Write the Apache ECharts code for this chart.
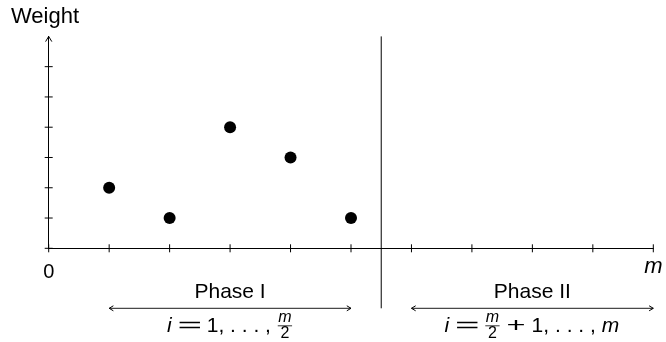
<!DOCTYPE html>
<html>
<head>
<meta charset="utf-8">
<script src="https://cdn.jsdelivr.net/npm/echarts@6/dist/echarts.min.js"></script>
<style>
  html, body { margin: 0; padding: 0; background: #fff; }
  #chart { width: 666px; height: 342px; }
</style>
</head>
<body>
<div id="chart"></div>
<script>
// Item positions and their weights
const positions = [1, 2, 3, 4, 5];
const weights = [2, 1, 4, 3, 1];

// Axis extents and ticks
const xMax = 10;
const yMax = 7;
const xTickValues = [0, 1, 2, 3, 4, 5, 6, 7, 8, 9, 10];
const yTickValues = [0, 1, 2, 3, 4, 5, 6];
const xLabelZero = '0';
const xLabelEnd = 'm';
const yName = 'Weight';

// Boundary between the two phases
const phaseSplit = 5.5;
const phaseNames = ['Phase I', 'Phase II'];
const phaseRanges = [[1, 5], [6, 10]];
const phaseFormulas = [
  [['i', 'it'], ['=', 'op'], ['1, . . . , ', 'rm'], [['m', '2'], 'frac']],
  [['i', 'it'], ['=', 'op'], [['m', '2'], 'frac'], ['+', 'op'], ['1, . . . , ', 'rm'], ['m', 'it']]
];

const FAMILY = '"Liberation Sans", Arial, Helvetica, sans-serif';
const INK = '#000';
const TICK_HALF = 4;

const chart = echarts.init(document.getElementById('chart'), null, { renderer: 'canvas' });

// tick marks that cross the axis lines: [axis, value]
const tickMarks = xTickValues.map(v => ['x', v]).concat(yTickValues.map(v => ['y', v]));

const option = {
  animation: false,
  backgroundColor: '#fff',
  title: {
    text: yName, left: 6, top: 1,
    textStyle: { fontFamily: FAMILY, fontSize: 22, fontWeight: 'normal', color: INK }
  },
  grid: {
    left: 48.7, right: 12.7, top: 36.4, bottom: 93.7,
    containLabel: false, outerBoundsMode: 'none'
  },
  xAxis: {
    type: 'value', min: 0, max: xMax, interval: 1, position: 'bottom',
    axisLine: { show: true, onZero: false, lineStyle: { color: INK, width: 1 } },
    axisTick: { show: false },
    splitLine: { show: false },
    axisLabel: {
      show: true, margin: 8,
      formatter: v => (v === 0 ? '{z|' + xLabelZero + '}' : v === xMax ? '{m|' + xLabelEnd + '}' : ''),
      rich: {
        z: { fontFamily: FAMILY, fontSize: 20, color: INK, padding: [6, 0, 0, 0] },
        m: { fontFamily: FAMILY, fontSize: 22, fontStyle: 'italic', color: INK }
      }
    }
  },
  yAxis: {
    type: 'value', min: 0, max: yMax, interval: 1, position: 'left',
    axisLine: { show: true, onZero: false, lineStyle: { color: INK, width: 1 } },
    axisTick: { show: false },
    splitLine: { show: false },
    axisLabel: { show: false }
  },
  series: [
    {
      // short tick strokes centred on the axis lines
      type: 'custom',
      silent: true,
      clip: false,
      data: tickMarks.map((t, i) => i),
      renderItem: (params, api) => {
        const [axis, v] = tickMarks[params.dataIndex];
        const p = axis === 'x' ? api.coord([v, 0]) : api.coord([0, v]);
        const shape = axis === 'x'
          ? { x1: p[0], y1: p[1] - TICK_HALF, x2: p[0], y2: p[1] + TICK_HALF }
          : { x1: p[0] - TICK_HALF, y1: p[1], x2: p[0] + TICK_HALF, y2: p[1] };
        return { type: 'line', shape: shape, style: { stroke: INK, lineWidth: 1 } };
      }
    },
    {
      type: 'scatter',
      symbol: 'circle', symbolSize: 12,
      itemStyle: { color: INK, opacity: 1 },
      data: positions.map((p, i) => [p, weights[i]])
    }
  ]
};

chart.setOption(option);

// ---- annotations placed through the grid's coordinate system ----
const px = (x, y) => chart.convertToPixel({ xAxisIndex: 0, yAxisIndex: 0 }, [x, y]);

const measureCtx = document.createElement('canvas').getContext('2d');
function textWidth(str, size, style) {
  measureCtx.font = (style || 'normal') + ' ' + size + 'px ' + FAMILY;
  return measureCtx.measureText(str).width;
}
const MID = 0.3465; // distance from baseline to the em-box middle, in em

function textAt(str, x, baseline, size, italic, align) {
  return {
    type: 'text', silent: true,
    style: {
      text: str, x: x, y: baseline - MID * size,
      fontFamily: FAMILY, fontSize: size, fontStyle: italic ? 'italic' : 'normal',
      fill: INK, textAlign: align || 'left', textVerticalAlign: 'middle'
    }
  };
}

function openHead(tipX, tipY, dx, dy) {
  // dx, dy point from the tip back along the shaft
  return {
    type: 'polyline', silent: true,
    shape: { points: [[tipX + dx - dy * 0.6, tipY + dy - dx * 0.6], [tipX, tipY], [tipX + dx + dy * 0.6, tipY + dy + dx * 0.6]] },
    style: { stroke: INK, lineWidth: 1, fill: null }
  };
}

const MAIN_SIZE = 21;
const FRAC_SIZE = 16;
const arrowY = 308.3;
const phaseTitleBaseline = 299.5;
const formulaBaseline = 333.3;
// relation / binary operator glyphs, widened like display-math symbols
const OP_STYLE = {
  '=': { size: 21, scaleX: 2.0, width: 20, padL: 7, padR: 7 },
  '+': { size: 21, scaleX: 1.55, width: 19, padL: 6, padR: 6 }
};

function formulaElements(tokens, cx, baseline) {
  const pieces = tokens.map(([content, kind]) => {
    if (kind === 'frac') {
      const w = Math.max(textWidth(content[0], FRAC_SIZE, 'italic'), textWidth(content[1], FRAC_SIZE)) + 3;
      return { kind, content, w };
    }
    if (kind === 'op') {
      const o = OP_STYLE[content];
      return { kind, content, w: o.padL + o.width + o.padR };
    }
    const w = textWidth(content, MAIN_SIZE, kind === 'it' ? 'italic' : 'normal') + (kind === 'it' ? 1 : 0);
    return { kind, content, w };
  });
  const total = pieces.reduce((s, p) => s + p.w, 0);
  let x = cx - total / 2;
  const els = [];
  const axisY = baseline - 7.5;
  pieces.forEach(p => {
    if (p.kind === 'frac') {
      const mid = x + p.w / 2;
      const barY = axisY;
      els.push(textAt(p.content[0], mid, barY - 2.5, FRAC_SIZE, true, 'center'));
      els.push(textAt(p.content[1], mid, barY + 13.5, FRAC_SIZE, false, 'center'));
      els.push({
        type: 'line', silent: true,
        shape: { x1: x + 1, y1: barY, x2: x + p.w - 1, y2: barY },
        style: { stroke: INK, lineWidth: 0.8 }
      });
    } else if (p.kind === 'op') {
      const o = OP_STYLE[p.content];
      els.push({
        type: 'text', silent: true,
        x: x + o.padL + o.width / 2, y: axisY, scaleX: o.scaleX,
        style: {
          text: p.content, x: 0, y: 0,
          fontFamily: FAMILY, fontSize: o.size, fill: INK,
          textAlign: 'center', textVerticalAlign: 'middle'
        }
      });
    } else {
      els.push(textAt(p.content, x, baseline, MAIN_SIZE, p.kind === 'it'));
    }
    x += p.w;
  });
  return els;
}

function buildAnnotations() {
  const els = [];
  // arrow tip at the top of the vertical axis
  const top = px(0, yMax);
  els.push(openHead(top[0], top[1], 0, 5.2));

  // phase divider
  const divTop = px(phaseSplit, yMax);
  els.push({
    type: 'line', silent: true,
    shape: { x1: divTop[0], y1: divTop[1], x2: divTop[0], y2: arrowY },
    style: { stroke: INK, lineWidth: 1 }
  });

  phaseRanges.forEach(([a, b], k) => {
    const xa = px(a, 0)[0];
    const xb = px(b, 0)[0];
    els.push({
      type: 'line', silent: true,
      shape: { x1: xa, y1: arrowY, x2: xb, y2: arrowY },
      style: { stroke: INK, lineWidth: 0.9 }
    });
    els.push(openHead(xa, arrowY, 4.2, 0));
    els.push(openHead(xb, arrowY, -4.2, 0));
    const cx = (xa + xb) / 2;
    els.push(textAt(phaseNames[k], cx, phaseTitleBaseline, MAIN_SIZE, false, 'center'));
    formulaElements(phaseFormulas[k], cx, formulaBaseline).forEach(e => els.push(e));
  });
  return els;
}

chart.setOption({ graphic: { elements: buildAnnotations() } });
</script>
</body>
</html>
